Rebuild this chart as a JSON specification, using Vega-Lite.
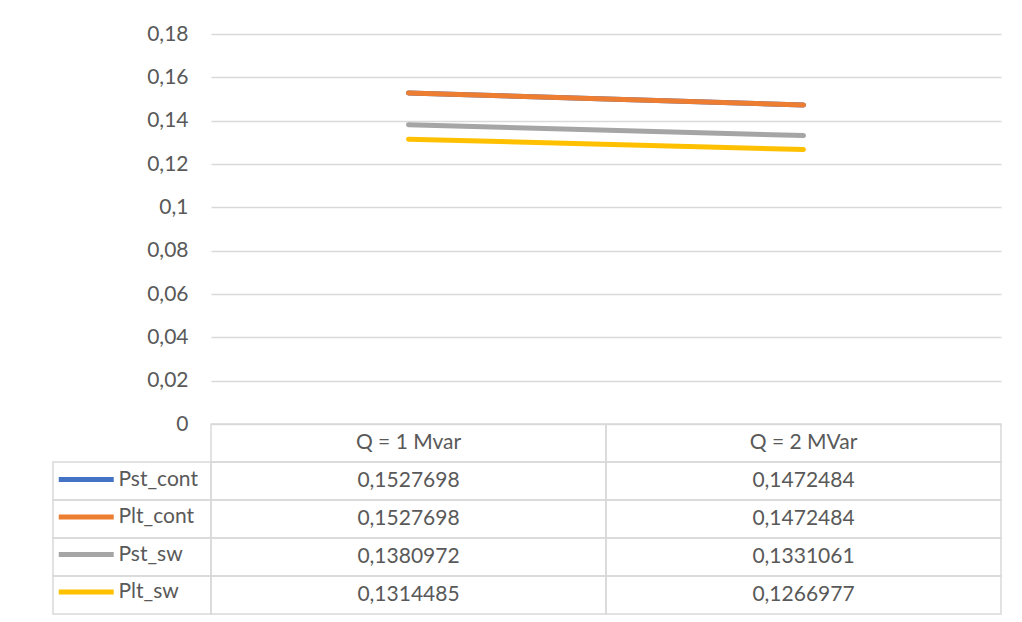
{
  "$schema": "https://vega.github.io/schema/vega-lite/v6.json",
  "padding": {"left": 52, "top": 23, "right": 5, "bottom": 5},
  "background": "white",
  "config": {
    "view": {"stroke": null},
    "locale": {"number": {"decimal": ",", "thousands": " ", "grouping": [3], "currency": ["", ""]}},
    "font": "Lato"
  },
  "datasets": {
    "lines": [
      {"series": "Pst_cont", "Q": "Q = 1 Mvar", "value": 0.1527698},
      {"series": "Pst_cont", "Q": "Q = 2 MVar", "value": 0.1472484},
      {"series": "Plt_cont", "Q": "Q = 1 Mvar", "value": 0.1527698},
      {"series": "Plt_cont", "Q": "Q = 2 MVar", "value": 0.1472484},
      {"series": "Pst_sw", "Q": "Q = 1 Mvar", "value": 0.1380972},
      {"series": "Pst_sw", "Q": "Q = 2 MVar", "value": 0.1331061},
      {"series": "Plt_sw", "Q": "Q = 1 Mvar", "value": 0.1314485},
      {"series": "Plt_sw", "Q": "Q = 2 MVar", "value": 0.1266977}
    ],
    "header": [
      {"Q": "Q = 1 Mvar"},
      {"Q": "Q = 2 MVar"}
    ]
  },
  "columns": 2,
  "spacing": 0,
  "bounds": "flush",
  "concat": [
    {
      "width": 158, "height": 390,
      "data": {"values": []},
      "mark": "point",
      "encoding": {}
    },
    {
      "width": 790, "height": 390,
      "data": {"name": "lines"},
      "mark": {"type": "line", "strokeWidth": 5, "strokeCap": "round", "strokeJoin": "round"},
      "encoding": {
        "x": {"field": "Q", "type": "nominal", "scale": {"type": "point", "domain": ["Q = 1 Mvar", "Q = 2 MVar"], "padding": 0.5}, "axis": null},
        "y": {"field": "value", "type": "quantitative",
          "scale": {"domain": [0, 0.18], "nice": false, "zero": true},
          "axis": {"values": [0, 0.02, 0.04, 0.06, 0.08, 0.1, 0.12, 0.14, 0.16, 0.18], "format": ".2~f", "title": null,
            "domain": false, "ticks": false, "tickSize": 0, "labelPadding": 23, "labelFontSize": 21, "labelFont": "Lato",
            "labelColor": "#595959", "gridColor": "#d9d9d9", "gridWidth": 1.3}},
        "color": {"field": "series", "type": "nominal",
          "scale": {"domain": ["Pst_cont", "Plt_cont", "Pst_sw", "Plt_sw"], "range": ["#4472C4", "#ED7D31", "#A5A5A5", "#FFC000"]},
          "legend": {"orient": "none", "legendX": 16.75, "legendY": 429, "direction": "vertical", "title": null,
            "padding": 0, "symbolType": "M-2,0L2,0", "symbolSize": 756, "symbolStrokeWidth": 5,
            "labelFont": "Lato", "labelFontSize": 21, "labelColor": "#595959", "labelOffset": 15.75, "rowPadding": 10.5}}
      }
    },
    {
      "width": 158, "height": 190,
      "data": {"name": "lines"},
      "transform": [{"filter": "datum.Q === 'Q = 1 Mvar'"}],
      "mark": {"type": "rect", "filled": false, "stroke": "#d9d9d9", "strokeWidth": 1.5},
      "encoding": {
        "y": {"field": "series", "type": "nominal",
          "scale": {"domain": ["header", "Pst_cont", "Plt_cont", "Pst_sw", "Plt_sw"], "paddingInner": 0, "paddingOuter": 0},
          "axis": null}
      }
    },
    {
      "width": 790, "height": 190,
      "layer": [
        {
          "data": {"name": "header"},
          "mark": {"type": "rect", "filled": false, "stroke": "#d9d9d9", "strokeWidth": 1.5},
          "encoding": {
            "x": {"field": "Q", "type": "nominal", "scale": {"type": "band", "domain": ["Q = 1 Mvar", "Q = 2 MVar"], "paddingInner": 0, "paddingOuter": 0}, "axis": null},
            "y": {"datum": "header", "type": "nominal",
              "scale": {"domain": ["header", "Pst_cont", "Plt_cont", "Pst_sw", "Plt_sw"], "paddingInner": 0, "paddingOuter": 0},
              "axis": null}
          }
        },
        {
          "data": {"name": "header"},
          "mark": {"type": "text", "font": "Lato", "fontSize": 21, "color": "#595959", "align": "center", "baseline": "middle"},
          "encoding": {
            "x": {"field": "Q", "type": "nominal"},
            "y": {"datum": "header", "type": "nominal"},
            "text": {"field": "Q"}
          }
        },
        {
          "data": {"name": "lines"},
          "mark": {"type": "rect", "filled": false, "stroke": "#d9d9d9", "strokeWidth": 1.5},
          "encoding": {
            "x": {"field": "Q", "type": "nominal"},
            "y": {"field": "series", "type": "nominal"}
          }
        },
        {
          "data": {"name": "lines"},
          "mark": {"type": "text", "font": "Lato", "fontSize": 21, "color": "#595959", "align": "center", "baseline": "middle"},
          "encoding": {
            "x": {"field": "Q", "type": "nominal"},
            "y": {"field": "series", "type": "nominal"},
            "text": {"field": "value", "type": "quantitative", "format": ".7f"}
          }
        }
      ]
    }
  ]
}
